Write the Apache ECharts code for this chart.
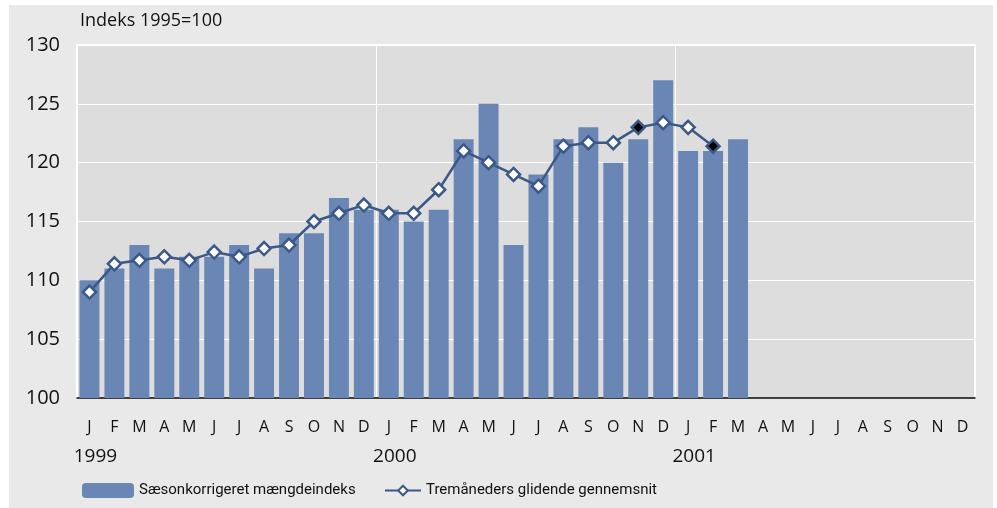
<!DOCTYPE html>
<html><head><meta charset="utf-8">
<script src="https://cdn.jsdelivr.net/npm/echarts@6/dist/echarts.min.js"></script>
<style>
html,body{margin:0;padding:0;background:#fff;}
#c{position:absolute;left:9px;top:5px;width:984px;height:503px;}
</style></head>
<body><div id="c"></div>
<script>
var months = ['J','F','M','A','M','J','J','A','S','O','N','D','J','F','M','A','M','J','J','A','S','O','N','D','J','F','M','A','M','J','J','A','S','O','N','D'];
var yearLabels = {0:'1999', 12:'2000', 24:'2001'};
var barValues = [110,111,113,111,112,112,113,111,114,114,117,116,116,115,116,122,125,113,119,122,123,120,122,127,121,121,122];
var lineValues = [109,111.4,111.7,112,111.7,112.4,112,112.7,113,115,115.7,116.4,115.7,115.7,117.7,121,120,119,118,121.4,121.7,121.7,123,123.4,123,121.4];
var blackPoints = [22, 25];
var yTicks = {min:100, max:130, interval:5};
var barName = 'Sæsonkorrigeret mængdeindeks';
var lineName = 'Tremåneders glidende gennemsnit';
var yTitle = 'Indeks 1995=100';

var FONT = '"Open Sans", sans-serif';
var LEGFONT = 'Roboto';
var LEGSIZE = 15;
var lineColor = '#3b5888';
var lineData = lineValues.map(function(v,i){
  if (blackPoints.indexOf(i) >= 0) return {value:v, itemStyle:{color:'#000'}};
  return v;
});

var ctx = document.createElement('canvas').getContext('2d');
ctx.font = LEGSIZE + 'px ' + LEGFONT;
var w1 = ctx.measureText(barName).width;
var w2 = ctx.measureText(lineName).width;
var total = 52 + 5 + w1 + 28 + 36 + 5 + w2;
var leg1Left = Math.round(360 - total / 2);
var leg2Left = Math.round(leg1Left + 52 + 5 + w1 + 28);

var chart = echarts.init(document.getElementById('c'));
chart.setOption({
  backgroundColor:'#e9e9e9',
  animation:false,
  textStyle:{fontFamily:FONT},
  grid:{left:68, top:40, right:18, bottom:110, show:true, backgroundColor:'#dddddd', borderColor:'#ffffff', borderWidth:2},
  title:{text:yTitle, left:71, top:7, padding:0, textStyle:{fontFamily:FONT, fontSize:18, fontWeight:'normal', color:'#111'}},
  legend:[
    {data:[barName], left:leg1Left, top:478, padding:0, itemWidth:52, itemHeight:15, itemGap:5, textStyle:{fontFamily:LEGFONT, fontSize:LEGSIZE, color:'#111'}},
    {data:[lineName], left:leg2Left, top:478, padding:0, itemWidth:36, itemHeight:12, textStyle:{fontFamily:LEGFONT, fontSize:LEGSIZE, color:'#111'}}
  ],
  xAxis:[
    {type:'category', data:months, boundaryGap:true,
     axisLine:{show:true, lineStyle:{color:'#000', width:1.5}},
     axisTick:{show:false},
     axisLabel:{interval:0, fontSize:16, color:'#111', margin:21},
     splitLine:{show:true, interval:function(i){return i===12||i===24;}, lineStyle:{color:'#ffffff', width:1}}
    },
    {type:'category', data:months, position:'bottom', boundaryGap:true,
     axisLine:{show:false}, axisTick:{show:false}, splitLine:{show:false},
     axisLabel:{interval:0, fontSize:19, color:'#111', margin:49, padding:[0,0,0,12],
       formatter:function(v,i){return yearLabels[i]||'';}}
    }
  ],
  yAxis:{type:'value', min:yTicks.min, max:yTicks.max, interval:yTicks.interval,
    axisLine:{show:false}, axisTick:{show:false},
    axisLabel:{fontSize:20, color:'#111', margin:17},
    splitLine:{show:true, lineStyle:{color:'#ffffff', width:1}}
  },
  series:[
    {name:barName, type:'bar', data:barValues, barCategoryGap:'20%', itemStyle:{color:'#6a86b5'}},
    {name:lineName, type:'line', data:lineData, symbol:'diamond', symbolSize:13,
     lineStyle:{color:lineColor, width:2.5},
     itemStyle:{color:'#ffffff', borderColor:lineColor, borderWidth:2.5}}
  ]
});
</script></body></html>
